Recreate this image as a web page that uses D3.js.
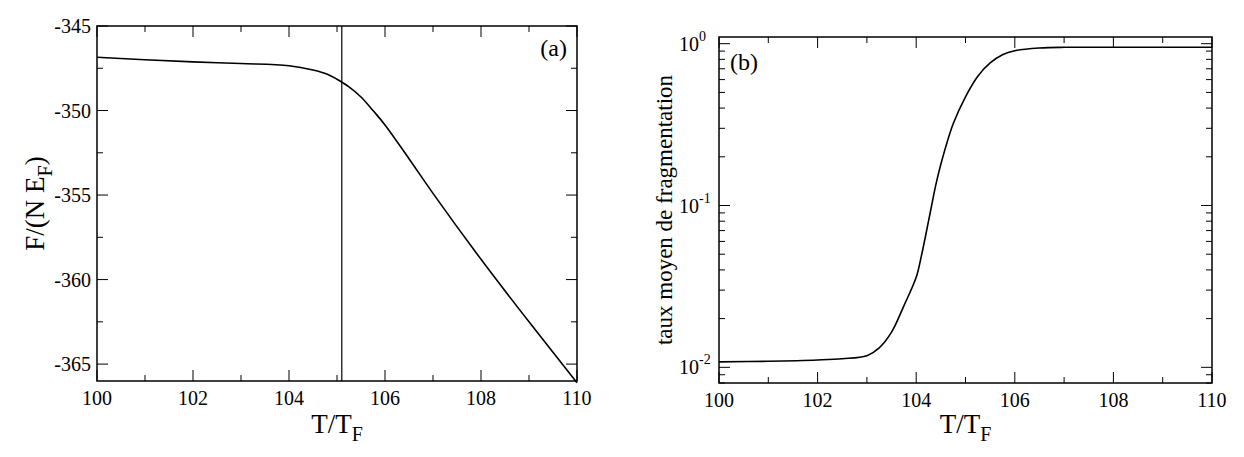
<!DOCTYPE html>
<html><head><meta charset="utf-8">
<script src="https://d3js.org/d3.v7.min.js"></script>
<style>body{margin:0;background:#fff}svg text{font-family:"Liberation Serif","Times New Roman","DejaVu Serif",serif;fill:#000}</style>
</head><body><svg id="c" width="1244" height="457"></svg>
<script>
const xTicks=[100,102,104,106,108,110];
const aT=[100,101,102,103,104,104.5,104.8,105,105.25,105.5,105.75,106,106.5,107,108,109,110];
const aF=[-346.85,-347.0,-347.12,-347.22,-347.35,-347.6,-347.85,-348.15,-348.6,-349.2,-350.0,-350.85,-352.85,-354.9,-358.8,-362.5,-366.1];
const aYTicks=[-345,-350,-355,-360,-365];
const vLineX=105.1;
const bT=[100,101,102,102.5,103,103.25,103.5,103.75,104,104.1,104.25,104.4,104.5,104.75,105,105.25,105.5,105.75,106,106.5,107,108,110];
const bR=[0.0108,0.0109,0.0111,0.0113,0.0118,0.0132,0.0165,0.024,0.036,0.048,0.08,0.135,0.18,0.32,0.47,0.63,0.76,0.855,0.905,0.94,0.95,0.95,0.95];
const bYTicks=[0.01,0.1,1];

const svg=d3.select("#c");
const FF='"Liberation Serif","Times New Roman","DejaVu Serif",serif';
function frame(g,x,y,w,h){g.append("rect").attr("x",x).attr("y",y).attr("width",w).attr("height",h).attr("fill","none").attr("stroke","#000").attr("stroke-width",1.5);}
function txt(g){return g.append("text").attr("font-family",FF);}

// Panel a
{
const L=97,R=577,T=26,B=381;
const x=d3.scaleLinear().domain([100,110]).range([L,R]);
const y=d3.scaleLinear().domain([-366,-345]).range([B,T]);
const g=svg.append("g");
d3.range(100,110.01,1).forEach(v=>{const big=v%2===0;const l=big?11:6;
 g.append("line").attr("x1",x(v)).attr("x2",x(v)).attr("y1",B).attr("y2",B-l).attr("stroke","#000");
 g.append("line").attr("x1",x(v)).attr("x2",x(v)).attr("y1",T).attr("y2",T+l).attr("stroke","#000");});
d3.range(-345,-366,-2.5).forEach(v=>{const big=v%5===0;const l=big?11:6;
 g.append("line").attr("y1",y(v)).attr("y2",y(v)).attr("x1",L).attr("x2",L+l).attr("stroke","#000");
 g.append("line").attr("y1",y(v)).attr("y2",y(v)).attr("x1",R).attr("x2",R-l).attr("stroke","#000");});
xTicks.forEach(v=>txt(g).attr("x",x(v)).attr("y",B+24).attr("text-anchor","middle").attr("font-size",20).text(v));
aYTicks.forEach(v=>txt(g).attr("x",L-6).attr("y",y(v)+7).attr("text-anchor","end").attr("font-size",20).text(v));
g.append("path").datum(aT.map((t,i)=>[t,aF[i]])).attr("fill","none").attr("stroke","#000").attr("stroke-width",1.6)
 .attr("d",d3.line().x(d=>x(d[0])).y(d=>y(d[1])).curve(d3.curveCatmullRom));
g.append("line").attr("x1",x(vLineX)).attr("x2",x(vLineX)).attr("y1",T).attr("y2",B).attr("stroke","#000").attr("stroke-width",1.2);
frame(g,L,T,R-L,B-T);
txt(g).attr("x",R-10).attr("y",T+30).attr("text-anchor","end").attr("font-size",24).text("(a)");
const xt=txt(g).attr("x",(L+R)/2).attr("y",433).attr("text-anchor","middle").attr("font-size",27);
xt.append("tspan").text("T/T");xt.append("tspan").attr("font-size",20).attr("dy",8).text("F");
const yt=txt(g).attr("transform",`translate(44,${(T+B)/2}) rotate(-90)`).attr("text-anchor","middle").attr("font-size",27);
yt.append("tspan").text("F/(N E");yt.append("tspan").attr("font-size",20).attr("dy",8).text("F");yt.append("tspan").attr("dy",-8).text(")");
}
// Panel b
{
const L=719,R=1212,T=37,B=383;
const x=d3.scaleLinear().domain([100,110]).range([L,R]);
const y=d3.scaleLog().domain([0.008,1.1]).range([B,T]);
const g=svg.append("g");
d3.range(100,110.01,1).forEach(v=>{const big=v%2===0;const l=big?11:6;
 g.append("line").attr("x1",x(v)).attr("x2",x(v)).attr("y1",B).attr("y2",B-l).attr("stroke","#000");
 g.append("line").attr("x1",x(v)).attr("x2",x(v)).attr("y1",T).attr("y2",T+l).attr("stroke","#000");});
const mins=[];[0.001,0.01,0.1].forEach(d=>{for(let k=1;k<10;k++)mins.push(d*k);});mins.push(1);
mins.filter(v=>v>=0.008&&v<=1.1).forEach(v=>{const big=bYTicks.some(b=>Math.abs(b-v)<1e-9);const l=big?11:6;
 g.append("line").attr("y1",y(v)).attr("y2",y(v)).attr("x1",L).attr("x2",L+l).attr("stroke","#000");
 g.append("line").attr("y1",y(v)).attr("y2",y(v)).attr("x1",R).attr("x2",R-l).attr("stroke","#000");});
xTicks.forEach(v=>txt(g).attr("x",x(v)).attr("y",B+24).attr("text-anchor","middle").attr("font-size",20).text(v));
bYTicks.forEach(v=>{const e=Math.round(Math.log10(v));txt(g).attr("x",L-20).attr("y",y(v)+7).attr("text-anchor","end").attr("font-size",20).text("10");
 txt(g).attr("x",L-20).attr("y",y(v)-3).attr("font-size",14).text(e);});
g.append("path").datum(bT.map((t,i)=>[t,bR[i]])).attr("fill","none").attr("stroke","#000").attr("stroke-width",1.6)
 .attr("d",d3.line().x(d=>x(d[0])).y(d=>y(d[1])).curve(d3.curveCatmullRom));
frame(g,L,T,R-L,B-T);
txt(g).attr("x",L+11).attr("y",T+33).attr("font-size",24).text("(b)");
const xt=txt(g).attr("x",(L+R)/2).attr("y",433).attr("text-anchor","middle").attr("font-size",27);
xt.append("tspan").text("T/T");xt.append("tspan").attr("font-size",20).attr("dy",8).text("F");
txt(g).attr("transform",`translate(672,${(T+B)/2}) rotate(-90)`).attr("text-anchor","middle").attr("font-size",23).text("taux moyen de fragmentation");
}
</script></body></html>
